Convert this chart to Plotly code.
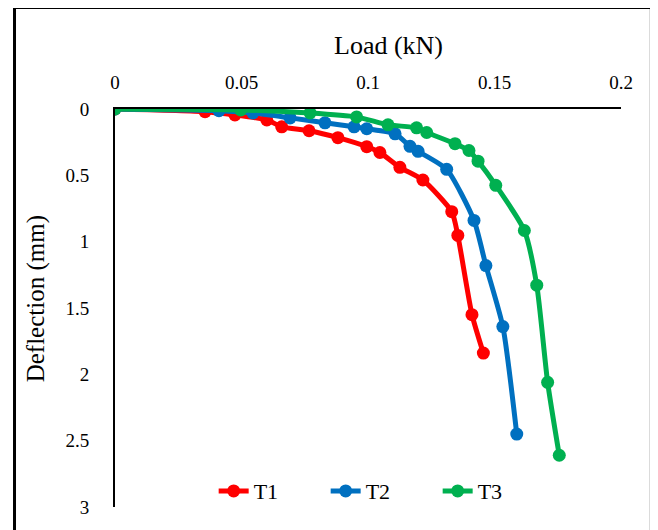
import plotly.graph_objects as go

# Data
t1_load = [0, 0.0356, 0.0474, 0.0600, 0.0659, 0.0767, 0.0881, 0.0995, 0.1047, 0.1126, 0.1217, 0.1331, 0.1355, 0.1411, 0.1456]
t1_defl = [0, 0.020, 0.045, 0.082, 0.134, 0.164, 0.216, 0.284, 0.328, 0.440, 0.535, 0.774, 0.953, 1.550, 1.840]

t2_load = [0, 0.0411, 0.0545, 0.0692, 0.0830, 0.0945, 0.0995, 0.1107, 0.1166, 0.1198, 0.1311, 0.1419, 0.1466, 0.1533, 0.1588]
t2_defl = [0, 0.013, 0.030, 0.067, 0.104, 0.134, 0.149, 0.187, 0.281, 0.319, 0.455, 0.840, 1.180, 1.640, 2.450]

t3_load = [0, 0.0497, 0.0771, 0.0955, 0.1079, 0.1192, 0.1232, 0.1344, 0.1399, 0.1435, 0.1505, 0.1618, 0.1667, 0.1710, 0.1756]
t3_defl = [0, 0.007, 0.030, 0.060, 0.119, 0.142, 0.177, 0.261, 0.313, 0.393, 0.575, 0.916, 1.328, 2.060, 2.610]

series_names = ["T1", "T2", "T3"]
series_colors = ["#FF0000", "#0070C0", "#00B050"]

x_title = "Load (kN)"
y_title = "Deflection (mm)"

FONT = "Liberation Serif, Times New Roman, serif"

fig = go.Figure()
for name, color, xs, ys in zip(series_names, series_colors,
                               [t1_load, t2_load, t3_load],
                               [t1_defl, t2_defl, t3_defl]):
    fig.add_trace(go.Scatter(
        x=xs, y=ys, name=name, mode="lines+markers",
        line=dict(color=color, width=5, shape="spline", smoothing=0.6),
        marker=dict(color=color, size=13),
    ))

# page has an 8px body margin, so the figure is 650x522
fig.update_layout(
    width=650, height=522,
    margin=dict(l=107, r=37, t=101, b=19),
    paper_bgcolor="white", plot_bgcolor="white",
    font=dict(family=FONT, size=19, color="#000000"),
    showlegend=True,
    legend=dict(orientation="h", x=0.195, xanchor="left", y=0.040, yanchor="middle",
                font=dict(family=FONT, size=22, color="#000000"),
                bgcolor="rgba(0,0,0,0)", entrywidth=67, entrywidthmode="pixels",
                tracegroupgap=0),
    xaxis=dict(side="top", range=[0, 0.2], dtick=0.05, showline=True, linecolor="black",
               linewidth=2, ticks="", showgrid=False, zeroline=False,
               tickfont=dict(family=FONT, size=19), ticklabelstandoff=10),
    yaxis=dict(range=[3, 0], dtick=0.5, showline=True, linecolor="black", linewidth=2,
               ticks="", showgrid=False, zeroline=False,
               tickfont=dict(family=FONT, size=19), ticklabelstandoff=20),
    annotations=[
        dict(text=x_title, x=0.5415, y=1.159, xref="paper", yref="paper",
             xanchor="center", yanchor="middle",
             showarrow=False, font=dict(family=FONT, size=26)),
        dict(text=y_title, x=-0.156, y=0.522, xref="paper", yref="paper",
             xanchor="center", yanchor="middle",
             showarrow=False, textangle=-90, font=dict(family=FONT, size=25)),
    ],
    shapes=[
        dict(type="rect", xref="paper", yref="paper", x0=-0.1986, x1=1.060, y0=-0.2, y1=1.255,
             line=dict(color="black", width=3), fillcolor="rgba(0,0,0,0)", layer="above"),
    ],
)

fig.write_html("out.html")
